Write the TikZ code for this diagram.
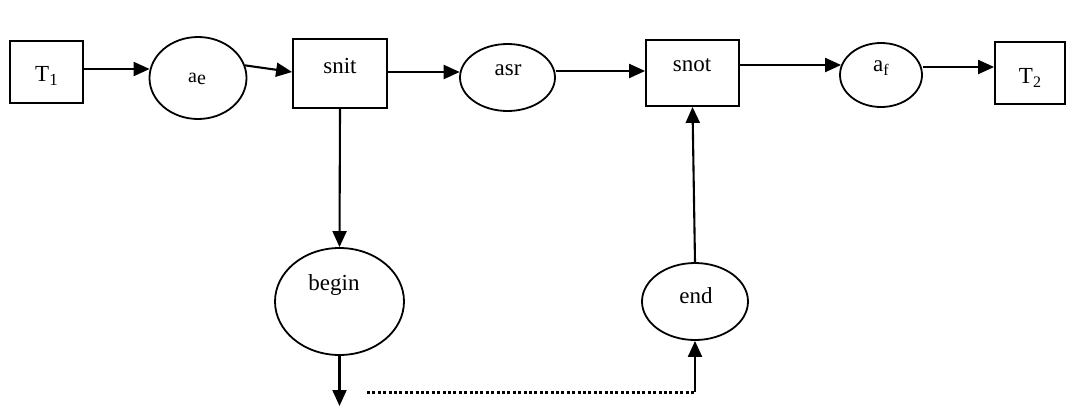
\documentclass[tikz,border=0pt]{standalone}
\usepackage{fontspec}
\setmainfont{Liberation Serif}
\usetikzlibrary{shapes.geometric,arrows.meta}
\begin{document}
\begin{tikzpicture}[x=1pt,y=-1pt,
  box/.style={draw,line width=1.8pt,rectangle,inner sep=0pt},
  oval/.style={draw,line width=1.8pt,ellipse,inner sep=0pt},
  arr/.style={line width=2.1pt,-{Triangle[length=16pt,width=14pt]}},
  lbl/.style={font=\fontsize{23}{26}\selectfont}]
\useasboundingbox (0,0) rectangle (1073,407);
\node[box,minimum width=73pt,minimum height=62pt] (T1) at (46.5,72) {};
\node[lbl] at (46.5,76) {T\raisebox{-4pt}{\fontsize{17}{18}\selectfont 1}};
\node[oval,minimum width=97pt,minimum height=82pt] (ae) at (198,78) {};
\node[font=\fontsize{20}{22}\selectfont] at (197,79) {a\raisebox{-1.5pt}{e}};
\node[box,minimum width=94pt,minimum height=69pt] (snit) at (340,73.5) {};
\node[lbl] at (340,66) {snit};
\node[oval,minimum width=95pt,minimum height=67pt] (asr) at (507.5,77.5) {};
\node[lbl] at (508,70) {asr};
\node[box,minimum width=93pt,minimum height=66pt] (snot) at (692.5,73) {};
\node[lbl] at (692,65) {snot};
\node[oval,minimum width=82pt,minimum height=64pt] (af) at (881,75) {};
\node[lbl] at (881,68) {a\raisebox{-4pt}{\fontsize{16}{18}\selectfont f}};
\node[box,minimum width=70pt,minimum height=62pt] (T2) at (1030,73) {};
\node[lbl] at (1030,78) {T\raisebox{-4pt}{\fontsize{16}{18}\selectfont 2}};
\node[oval,minimum width=129pt,minimum height=107pt] (begin) at (339.5,301.5) {};
\node[lbl] at (334,285) {begin};
\node[oval,minimum width=106pt,minimum height=77pt] (end) at (695,301.5) {};
\node[lbl] at (696,296) {end};
\coordinate (bfree) at (339.5,406);
\coordinate (d1) at (367,392);
\coordinate (d2) at (695,392);
\draw[arr] ([yshift=3pt]T1.east) -- ([xshift=1pt]ae.west |- 0,69);
\draw[arr] (ae.15) -- ([yshift=1.5pt]snit.west);
\draw[arr] (snit.east |- 0,72) -- ([xshift=0.6pt]asr.west |- 0,72);
\draw[arr] (asr.east |- 0,71) -- (snot.west |- 0,71);
\draw[arr] (snot.east |- 0,65) -- ([xshift=2pt]af.west |- 0,65);
\draw[arr] (af.east |- 0,67) -- (T2.west |- 0,67);
\draw[arr] (snit.south) -- (begin.north);
\draw[arr] (begin.south) -- (bfree);
\draw[line width=3pt,dash pattern=on 3pt off 2.4pt] (d1) -- (d2);
\draw[arr] (d2) -- (end.south);
\draw[arr] (end.north) -- (snot.south);
\end{tikzpicture}
\end{document}
